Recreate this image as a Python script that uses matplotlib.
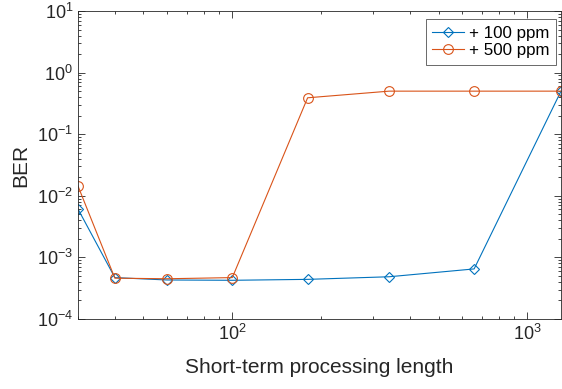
import matplotlib
matplotlib.use("Agg")
import matplotlib.pyplot as plt
from matplotlib.ticker import LogLocator, NullFormatter

plt.rcParams['font.family'] = ['Liberation Sans', 'DejaVu Sans']
plt.rcParams['mathtext.fontset'] = 'custom'
plt.rcParams['mathtext.rm'] = 'Liberation Sans'
plt.rcParams['mathtext.it'] = 'Liberation Sans'

lengths = [30, 40, 60, 100, 180, 340, 660, 1300]
ber_100 = [6.1e-3, 4.7e-4, 4.3e-4, 4.25e-4, 4.4e-4, 4.85e-4, 6.5e-4, 0.5]
ber_500 = [1.44e-2, 4.6e-4, 4.5e-4, 4.7e-4, 0.39, 0.5, 0.5, 0.5]
labels = ['+ 100 ppm', '+ 500 ppm']
xlabel = 'Short-term processing length'
ylabel = 'BER'

c1 = '#0072BD'
c2 = '#D95319'
gray = '#262626'

fig = plt.figure(figsize=(5.62, 3.89), dpi=100)
ax = fig.add_axes([78/562, 70/389, (561-78)/562, (319-11)/389])

ax.loglog(lengths, ber_100, color=c1, marker='D', markersize=5.5, mfc='none',
          mec=c1, lw=0.8, mew=0.8, label=labels[0])
ax.loglog(lengths, ber_500, color=c2, marker='o', markersize=7, mfc='none',
          mec=c2, lw=0.8, mew=0.8, label=labels[1])

ax.set_xlim(30, 1300)
ax.set_ylim(1e-4, 10)

ax.yaxis.set_major_locator(LogLocator(base=10, numticks=20))
ax.yaxis.set_minor_locator(LogLocator(base=10, subs=range(2, 10), numticks=20))
ax.yaxis.set_minor_formatter(NullFormatter())
ax.xaxis.set_minor_formatter(NullFormatter())

ax.tick_params(which='both', direction='in', top=True, right=True,
               colors=gray, labelcolor=gray, width=0.6)
ax.tick_params(which='major', length=5, labelsize=13)
ax.tick_params(which='minor', length=2.5)
for s in ax.spines.values():
    s.set_color(gray)
    s.set_linewidth(0.6)

ax.set_xlabel(xlabel, fontsize=15, color=gray, labelpad=10)
ax.set_ylabel(ylabel, fontsize=15, color=gray, labelpad=5)

leg = ax.legend(loc='upper right', bbox_to_anchor=((556-78)/483, 1-(19-11)/308),
                fontsize=12.2, frameon=True, fancybox=False,
                edgecolor=gray, borderpad=0.4, handlelength=1.85,
                handletextpad=0.3, labelspacing=0.15, borderaxespad=0)
leg.get_frame().set_linewidth(0.6)

fig.savefig('out.png', dpi=100)
